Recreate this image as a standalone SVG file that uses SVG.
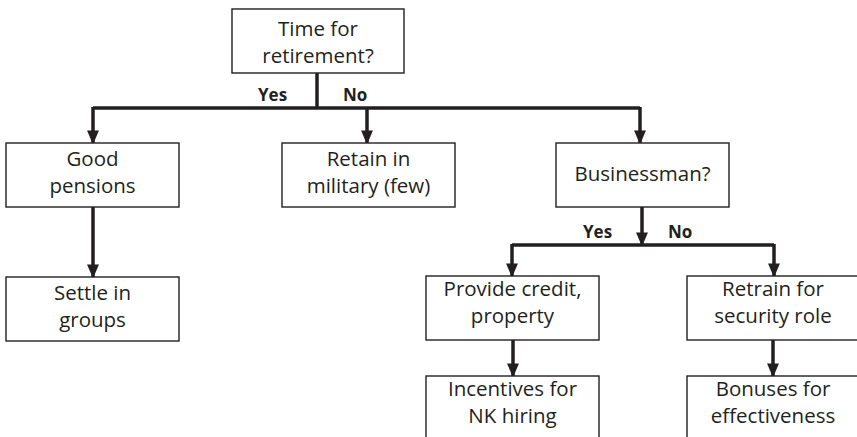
<svg xmlns="http://www.w3.org/2000/svg" width="857" height="437" viewBox="0 0 857 437">
<style>
.box{fill:#fff;stroke:#231f20;stroke-width:1.4}
.t{font-family:"Open Sans","Noto Sans",sans-serif;font-size:20.5px;fill:#231f20;text-anchor:middle}
.lb{font-family:"Open Sans","Noto Sans",sans-serif;font-size:17px;font-weight:bold;fill:#231f20}
.c{fill:none;stroke:#231f20;stroke-width:3.5}
</style>
<defs>
<marker id="ah" markerWidth="4" markerHeight="4" refX="3.6" refY="2" orient="auto" markerUnits="strokeWidth" viewBox="0 0 4 4">
<path d="M0,0.3 L4,2 L0,3.7 Z" fill="#231f20"/>
</marker>
</defs>
<rect width="857" height="437" fill="#fff"/>
<g id="connectors">
<line class="c" x1="317" y1="73" x2="317" y2="108"/>
<path class="c" d="M93,108 H640" />
<line class="c" x1="93" y1="107" x2="93" y2="143" marker-end="url(#ah)"/>
<line class="c" x1="367" y1="108" x2="367" y2="143" marker-end="url(#ah)"/>
<line class="c" x1="640" y1="107" x2="640" y2="143" marker-end="url(#ah)"/>
<line class="c" x1="93" y1="207" x2="93" y2="277" marker-end="url(#ah)"/>
<line class="c" x1="642" y1="207" x2="642" y2="245" marker-end="url(#ah)"/>
<path class="c" d="M512,245 H774"/>
<line class="c" x1="512" y1="244" x2="512" y2="276" marker-end="url(#ah)"/>
<line class="c" x1="774" y1="244" x2="774" y2="276" marker-end="url(#ah)"/>
<line class="c" x1="513" y1="340" x2="513" y2="376" marker-end="url(#ah)"/>
<line class="c" x1="773" y1="340" x2="773" y2="376" marker-end="url(#ah)"/>
<text class="lb" x="258" y="101">Yes</text>
<text class="lb" x="343" y="101">No</text>
<text class="lb" x="583" y="238">Yes</text>
<text class="lb" x="668" y="238">No</text>
</g>
<g id="n-time">
<rect class="box" x="232" y="9" width="172" height="64"/>
<text class="t" x="318" y="36">Time for</text>
<text class="t" x="318" y="63">retirement?</text>
</g>
<g id="n-pensions">
<rect class="box" x="6" y="143" width="173" height="64"/>
<text class="t" x="92.5" y="166">Good</text>
<text class="t" x="92.5" y="193">pensions</text>
</g>
<g id="n-retain">
<rect class="box" x="282" y="143" width="173" height="64"/>
<text class="t" x="368.5" y="166">Retain in</text>
<text class="t" x="368.5" y="193">military (few)</text>
</g>
<g id="n-business">
<rect class="box" x="556" y="143" width="173" height="64"/>
<text class="t" x="642.5" y="181">Businessman?</text>
</g>
<g id="n-settle">
<rect class="box" x="6" y="277" width="173" height="64"/>
<text class="t" x="92.5" y="300">Settle in</text>
<text class="t" x="92.5" y="327">groups</text>
</g>
<g id="n-credit">
<rect class="box" x="426" y="276" width="173" height="64"/>
<text class="t" x="512.5" y="296">Provide credit,</text>
<text class="t" x="512.5" y="323">property</text>
</g>
<g id="n-retrain">
<rect class="box" x="687" y="276" width="173" height="64"/>
<text class="t" x="773" y="296">Retrain for</text>
<text class="t" x="773" y="323">security role</text>
</g>
<g id="n-incentives">
<rect class="box" x="426" y="376" width="173" height="70"/>
<text class="t" x="512.5" y="396">Incentives for</text>
<text class="t" x="512.5" y="423">NK hiring</text>
</g>
<g id="n-bonuses">
<rect class="box" x="687" y="376" width="173" height="70"/>
<text class="t" x="773" y="396">Bonuses for</text>
<text class="t" x="773" y="423">effectiveness</text>
</g>
</svg>
